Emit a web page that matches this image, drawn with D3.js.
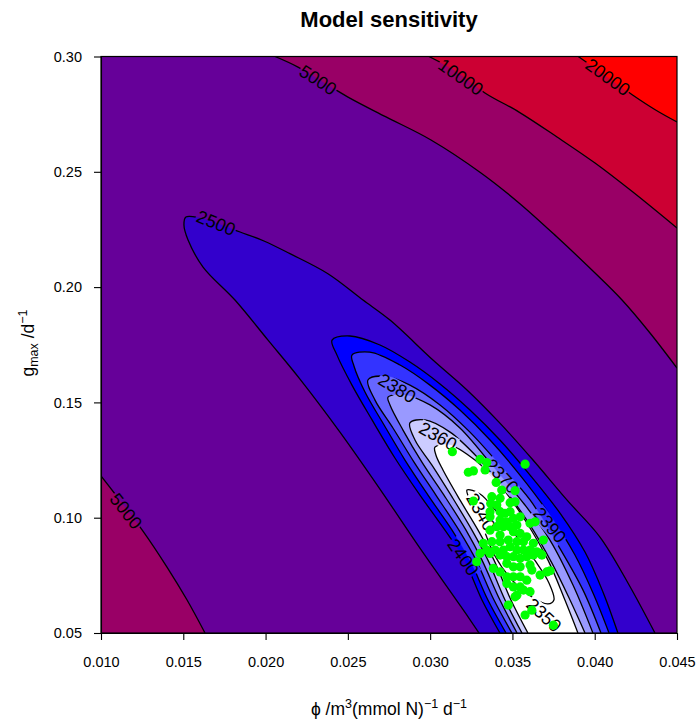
<!DOCTYPE html>
<html><head><meta charset="utf-8">
<script src="https://cdn.jsdelivr.net/npm/d3@7"></script>
<style>
body{margin:0;background:#fff}
svg{display:block}
text{font-family:"Liberation Sans",Arial,Helvetica,sans-serif}
</style>
</head><body>
<svg id="c" width="698" height="722"></svg>
<script>
// ---------------- data ----------------
const phiDomain = [0.010, 0.045];
const gDomain = [0.05, 0.30];
const phiTicks = [0.010, 0.015, 0.020, 0.025, 0.030, 0.035, 0.040, 0.045];
const gTicks = [0.05, 0.10, 0.15, 0.20, 0.25, 0.30];

// fill bands: breaks min,2350,...,20000,max
const bandColors = ["#FFFFFF","#CCCCFF","#9999FF","#6666FF","#3333FF","#0000FF","#3300CC","#660099","#990066","#CC0033","#FF0000"];

// contour lines, [phi, gmax]
const contour20000 = [[0.0390,0.300],[0.0406,0.2920],[0.0423,0.2833],[0.0437,0.2768],[0.0450,0.2716]];
const contour10000 = [[0.02993,0.300],[0.03163,0.2933],[0.03333,0.2842],[0.0354,0.2759],[0.03771,0.2651],[0.04002,0.2538],[0.04232,0.2412],[0.0450,0.2256]];
const contour5000a = [[0.02057,0.300],[0.02197,0.2954],[0.02501,0.2824],[0.02732,0.2738],[0.03005,0.2638],[0.03309,0.2495],[0.0354,0.2365],[0.03771,0.2217],[0.04002,0.2061],[0.04166,0.1944],[0.04336,0.1801],[0.0450,0.1649]];
const contour5000b = [[0.0100,0.1181],[0.01255,0.0942],[0.01401,0.0786],[0.01523,0.0643],[0.01632,0.0500]];
const contour2500 = [[0.03297,0.05],[0.03181,0.0621],[0.02938,0.0868],[0.02695,0.1124],[0.02452,0.1371],[0.02209,0.1601],[0.02015,0.1770],[0.01814,0.1944],[0.0162,0.2087],[0.01529,0.2204],[0.01504,0.2269],[0.01516,0.2304],[0.01602,0.2300],[0.01699,0.2278],[0.01845,0.2239],[0.0199,0.2200],[0.02148,0.2145],[0.02379,0.2058],[0.02592,0.1944],[0.02756,0.1857],[0.03017,0.1684],[0.03224,0.1554],[0.03424,0.1410],[0.03625,0.1250],[0.03831,0.1077],[0.04032,0.0916],[0.04202,0.0717],[0.04366,0.05]];
const contour2400 = [[0.03424,0.05],[0.03315,0.0643],[0.0320,0.0829],[0.0309,0.0946],[0.02938,0.1098],[0.02786,0.1259],[0.02647,0.1424],[0.02525,0.1575],[0.02434,0.1705],[0.02404,0.1770],[0.02513,0.1788],[0.02695,0.1749],[0.02877,0.1675],[0.0306,0.1580],[0.03242,0.1467],[0.03424,0.1337],[0.03607,0.1185],[0.03789,0.1020],[0.03941,0.0851],[0.0405,0.0678],[0.04141,0.05]];
const contour2390 = [[0.03461,0.05],[0.03351,0.0643],[0.03242,0.0816],[0.03133,0.0946],[0.02987,0.1098],[0.02847,0.1250],[0.0272,0.1402],[0.02604,0.1545],[0.02537,0.1658],[0.02525,0.1705],[0.02634,0.1718],[0.02817,0.1662],[0.02999,0.1575],[0.03181,0.1467],[0.03364,0.1337],[0.03546,0.1185],[0.03728,0.1012],[0.0388,0.0838],[0.03995,0.0665],[0.04087,0.05]];
const contour2380 = [[0.03497,0.05],[0.03388,0.0643],[0.03279,0.0816],[0.03175,0.0946],[0.03035,0.1098],[0.02902,0.1241],[0.02774,0.1389],[0.02665,0.1510],[0.02622,0.1597],[0.02726,0.1614],[0.02877,0.1575],[0.0306,0.1489],[0.03242,0.1371],[0.03424,0.1228],[0.03607,0.1077],[0.03777,0.0881],[0.03929,0.0686],[0.04038,0.05]];
const contour2370 = [[0.03528,0.05],[0.03424,0.0643],[0.03315,0.0816],[0.03218,0.0946],[0.03084,0.1098],[0.0295,0.1241],[0.02835,0.1380],[0.02756,0.1489],[0.02744,0.1523],[0.02847,0.1532],[0.02999,0.1489],[0.03181,0.1389],[0.03424,0.1185],[0.03576,0.1055],[0.03728,0.0903],[0.03868,0.0708],[0.03989,0.05]];
const contour2360 = [[0.03558,0.05],[0.03455,0.0643],[0.03351,0.0816],[0.03254,0.0946],[0.03133,0.1090],[0.03011,0.1228],[0.02908,0.1337],[0.02877,0.1411],[0.02969,0.1424],[0.03121,0.1371],[0.03291,0.1259],[0.03455,0.1120],[0.03607,0.0968],[0.0374,0.0803],[0.0385,0.0643],[0.03941,0.05]];
const contour2350 = [[0.03594,0.05],[0.03491,0.0643],[0.03388,0.0816],[0.03291,0.0946],[0.03181,0.1077],[0.03078,0.1207],[0.03035,0.1272],[0.03029,0.1306],[0.03121,0.1315],[0.03272,0.1250],[0.03424,0.1142],[0.03576,0.0990],[0.03716,0.0816],[0.03819,0.0643],[0.03898,0.05]];
const contour2340 = [[0.03224,0.1120],[0.03303,0.1103],[0.03406,0.1025],[0.03528,0.0916],[0.03643,0.0808],[0.03722,0.0717],[0.03752,0.0643],[0.03716,0.0626],[0.03619,0.0656],[0.03497,0.0730],[0.03394,0.0834],[0.03327,0.0946],[0.03272,0.1033],[0.03236,0.1085]];

// parameter sets (green points)
const pointPhi = [0.03135,0.03577,0.03303,0.03344,0.03232,0.03263,0.03334,0.03401,0.03435,0.03516,0.03263,0.03375,0.03425,0.03368,0.03405,0.03486,0.03516,0.03364,0.03425,0.03455,0.03486,0.03364,0.03425,0.03466,0.03506,0.03547,0.03405,0.03445,0.03486,0.03527,0.03364,0.03425,0.03506,0.03547,0.03607,0.03638,0.03587,0.03688,0.03323,0.03375,0.03425,0.03475,0.03527,0.03567,0.03627,0.03344,0.03395,0.03445,0.03486,0.03527,0.03567,0.03607,0.03648,0.03679,0.03303,0.03364,0.03425,0.03466,0.03506,0.03547,0.03587,0.03627,0.03668,0.03283,0.03384,0.03425,0.03466,0.03506,0.03547,0.03607,0.03618,0.03668,0.03709,0.03729,0.03466,0.03506,0.03547,0.03587,0.03466,0.03506,0.03547,0.03567,0.03527,0.03607,0.03475,0.03516,0.03577,0.03618,0.03749];
const pointG = [0.1286,0.1232,0.1253,0.1239,0.1197,0.1203,0.1207,0.1153,0.1120,0.1117,0.1072,0.1091,0.1084,0.1062,0.1055,0.1065,0.1069,0.1026,0.1026,0.1019,0.1026,0.1004,0.0990,0.0982,0.0997,0.1004,0.0961,0.0961,0.0961,0.0968,0.0946,0.0925,0.0939,0.0932,0.0976,0.0982,0.0917,0.0903,0.0889,0.0896,0.0896,0.0903,0.0896,0.0896,0.0889,0.0860,0.0860,0.0860,0.0874,0.0860,0.0860,0.0860,0.0852,0.0838,0.0845,0.0845,0.0838,0.0831,0.0831,0.0824,0.0831,0.0838,0.0845,0.0809,0.0780,0.0765,0.0802,0.0787,0.0787,0.0795,0.0773,0.0751,0.0765,0.0770,0.0744,0.0744,0.0744,0.0729,0.0715,0.0700,0.0700,0.0686,0.0664,0.0679,0.0621,0.0657,0.0578,0.0599,0.0534];

// contour labels: text, phi, gmax, angle
const labelText  = ["20000","10000","5000","2500","5000","2380","2360","2370","2390","2400","2340","2350"];
const labelPhi   = [0.0408,0.03187,0.02319,0.01699,0.01152,0.02799,0.03048,0.03436,0.03728,0.0320,0.03309,0.03692];
const labelG     = [0.2911,0.2911,0.2898,0.2278,0.1029,0.1562,0.1354,0.1181,0.0968,0.0829,0.1025,0.0578];
const labelAngle = [36,35,33,22,52,31,29,47,50,55,60,43];

// ---------------- drawing ----------------
const M = {l:101, r:677, t:56.5, b:633};
const x = d3.scaleLinear().domain(phiDomain).range([M.l, M.r]);
const y = d3.scaleLinear().domain(gDomain).range([M.b, M.t]);
const svg = d3.select('#c');
const defs = svg.append('defs');
defs.append('clipPath').attr('id','clip').append('rect')
  .attr('x',M.l).attr('y',M.t).attr('width',M.r-M.l).attr('height',M.b-M.t);

const plot = svg.append('g').attr('clip-path','url(#clip)');
const line = d3.line().x(d=>x(d[0])).y(d=>y(d[1])).curve(d3.curveCatmullRom.alpha(0.5));
const lineClosed = d3.line().x(d=>x(d[0])).y(d=>y(d[1])).curve(d3.curveCatmullRomClosed.alpha(0.5));
const corner = (px,py)=>`L${x(px)},${y(py)}`;

// base band (2500-5000)
plot.append('rect').attr('x',M.l).attr('y',M.t).attr('width',M.r-M.l).attr('height',M.b-M.t).attr('fill',bandColors[7]);

const regions = [
  {pts:contour5000a, extra:[[phiDomain[1],gDomain[1]]], c:bandColors[8]},
  {pts:contour10000, extra:[[phiDomain[1],gDomain[1]]], c:bandColors[9]},
  {pts:contour20000, extra:[[phiDomain[1],gDomain[1]]], c:bandColors[10]},
  {pts:contour5000b, extra:[[phiDomain[0],gDomain[0]]], c:bandColors[8]},
  {pts:contour2500, extra:[], c:bandColors[6]},
  {pts:contour2400, extra:[], c:bandColors[5]},
  {pts:contour2390, extra:[], c:bandColors[4]},
  {pts:contour2380, extra:[], c:bandColors[3]},
  {pts:contour2370, extra:[], c:bandColors[2]},
  {pts:contour2360, extra:[], c:bandColors[1]},
  {pts:contour2350, extra:[], c:bandColors[0]}
];
regions.forEach(r=>{
  let p = line(r.pts);
  r.extra.forEach(e=>{p += corner(e[0],e[1]);});
  p += 'Z';
  plot.append('path').attr('d',p).attr('fill',r.c).attr('stroke',r.c).attr('stroke-width',0.3);
});

// label mask
const mask = defs.append('mask').attr('id','lblmask').attr('maskUnits','userSpaceOnUse')
  .attr('x',0).attr('y',0).attr('width',698).attr('height',722);
mask.append('rect').attr('x',0).attr('y',0).attr('width',698).attr('height',722).attr('fill','white');

const linesG = plot.append('g').attr('mask','url(#lblmask)');
[contour20000,contour10000,contour5000a,contour5000b,contour2500,contour2400,contour2390,contour2380,contour2370,contour2360,contour2350].forEach(c=>{
  linesG.append('path').attr('d',line(c)).attr('fill','none').attr('stroke','#000').attr('stroke-width',1.3);
});
linesG.append('path').attr('d',lineClosed(contour2340)).attr('fill','none').attr('stroke','#000').attr('stroke-width',1.3);

const lblG = plot.append('g');
labelText.forEach((t,i)=>{
  const tx = x(labelPhi[i]), ty = y(labelG[i]);
  const tr = `translate(${tx},${ty}) rotate(${labelAngle[i]})`;
  const el = lblG.append('text').attr('transform',tr).attr('text-anchor','middle')
    .attr('dy','0.35em').attr('font-size','18px').attr('fill','#000').text(t);
  const bb = el.node().getBBox();
  mask.append('rect').attr('transform',tr).attr('x',bb.x-1).attr('y',bb.y+2)
    .attr('width',bb.width+2).attr('height',bb.height-4).attr('fill','black');
});

// points
plot.append('g').selectAll('circle').data(pointPhi.map((p,i)=>[p,pointG[i]])).join('circle')
  .attr('cx',d=>x(d[0])).attr('cy',d=>y(d[1])).attr('r',4.6).attr('fill','#00FF00');

// box
svg.append('rect').attr('x',M.l).attr('y',M.t).attr('width',M.r-M.l).attr('height',M.b-M.t)
  .attr('fill','none').attr('stroke','#000').attr('stroke-width',1.2);

// axes
const xAxis = svg.append('g').attr('transform',`translate(0,${M.b})`)
  .call(d3.axisBottom(x).tickValues(phiTicks).tickFormat(d3.format('.3f')).tickSize(7).tickSizeOuter(0).tickPadding(17));
const yAxis = svg.append('g').attr('transform',`translate(${M.l},0)`)
  .call(d3.axisLeft(y).tickValues(gTicks).tickFormat(d3.format('.2f')).tickSize(7).tickSizeOuter(0).tickPadding(12));
[xAxis,yAxis].forEach(a=>{
  a.selectAll('text').attr('font-size','14.5px').attr('fill','#000').attr('font-family','"Liberation Sans",Arial,sans-serif');
  a.selectAll('line').attr('stroke','#000').attr('stroke-width',1.1);
  a.select('.domain').attr('stroke','#000').attr('stroke-width',1.1);
});

// titles
svg.append('text').attr('x',389).attr('y',27).attr('text-anchor','middle')
  .attr('font-size','22px').attr('font-weight','bold').text('Model sensitivity');

const xt = svg.append('text').attr('x',389).attr('y',715).attr('text-anchor','middle').attr('font-size','17.5px');
xt.append('tspan').text('\u03D5 /m');
xt.append('tspan').attr('font-size','12.5px').attr('dy','-7').text('3');
xt.append('tspan').attr('dy','7').text('(mmol N)');
xt.append('tspan').attr('font-size','12.5px').attr('dy','-7').text('\u22121');
xt.append('tspan').attr('dy','7').text(' d');
xt.append('tspan').attr('font-size','12.5px').attr('dy','-7').text('\u22121');

const yt = svg.append('text').attr('transform','translate(34,343) rotate(-90)').attr('text-anchor','middle').attr('font-size','17.5px');
yt.append('tspan').text('g');
yt.append('tspan').attr('font-size','12.5px').attr('dy','4').text('max');
yt.append('tspan').attr('dy','-4').text(' /d');
yt.append('tspan').attr('font-size','12.5px').attr('dy','-7').text('\u22121');
</script>
</body></html>
